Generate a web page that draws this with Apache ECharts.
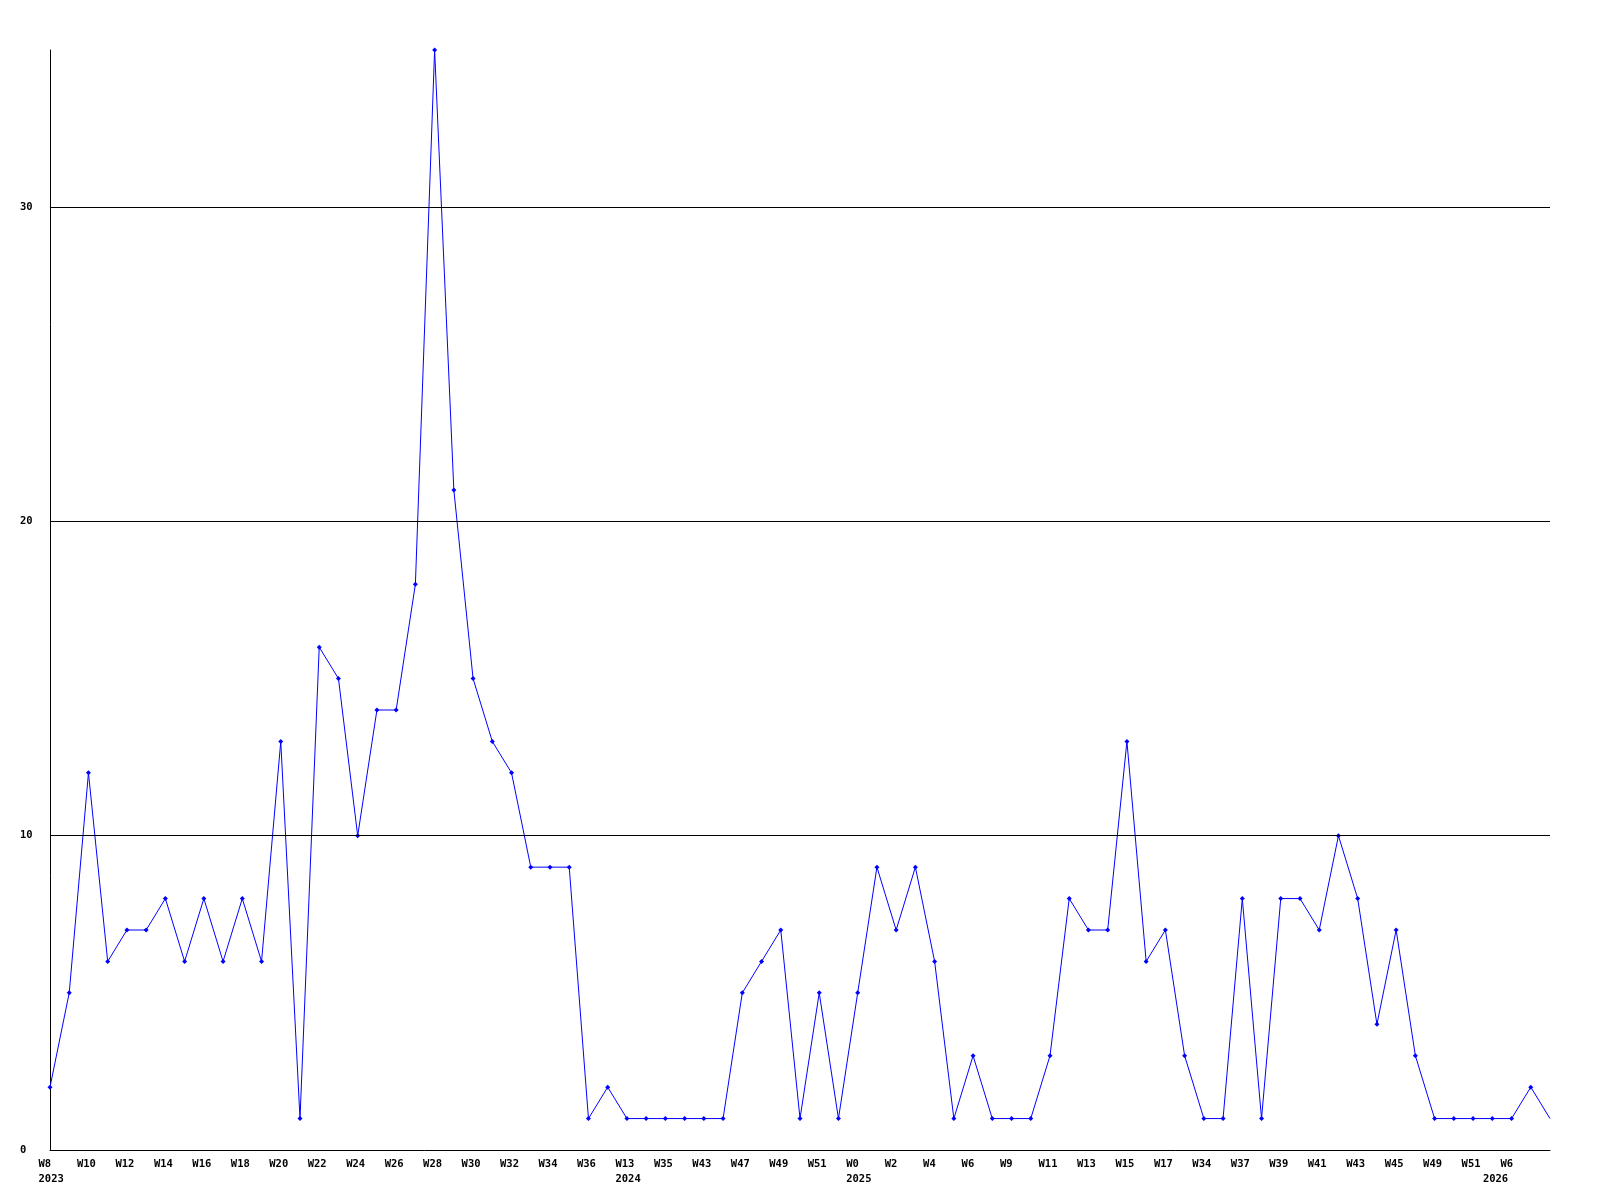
<!DOCTYPE html>
<html>
<head>
<meta charset="utf-8">
<script src="https://cdn.jsdelivr.net/npm/echarts@6/dist/echarts.min.js"></script>
<style>html,body{margin:0;padding:0;background:#fff}#c{width:1600px;height:1200px}</style>
</head>
<body>
<div id="c"></div>
<script>
// Week categories (odd-index names are not shown in the reference; they are placeholders)
const weeks = [
  'W8','W9','W10','W11','W12','W13','W14','W15','W16','W17',
  'W18','W19','W20','W21','W22','W23','W24','W25','W26','W27',
  'W28','W29','W30','W31','W32','W33','W34','W35','W36','W37',
  'W13','W14','W35','W42','W43','W46','W47','W48','W49','W50',
  'W51','W52','W0','W1','W2','W3','W4','W5','W6','W8',
  'W9','W10','W11','W12','W13','W14','W15','W16','W17','W33',
  'W34','W36','W37','W38','W39','W40','W41','W42','W43','W44',
  'W45','W46','W49','W50','W51','W52','W6','W7','W8'
];
// Year shown beneath the first week of each year
const years = {0:'2023', 30:'2024', 42:'2025', 76:'2026'};
const values = [
  2,5,12,6,7,7,8,6,8,6,
  8,6,13,1,16,15,10,14,14,18,
  35,21,15,13,12,9,9,9,1,2,
  1,1,1,1,1,1,5,6,7,1,
  5,1,5,9,7,9,6,1,3,1,
  1,1,3,8,7,7,13,6,7,3,
  1,1,8,1,8,8,7,10,8,4,
  7,3,1,1,1,1,1,2,1
];
const gridValues = [10,20,30];
const yTicks = [0,10,20,30];

const chart = echarts.init(document.getElementById('c'), null, {renderer:'canvas'});
const font = 'DejaVu Sans Mono';
const lastIdx = values.length - 1;
const base = {fontFamily:font,fontWeight:'bold',fontSize:10.5,color:'#000',lineHeight:15};
chart.setOption({
  animation:false,
  backgroundColor:'#ffffff',
  grid:{left:50,right:50,top:50,bottom:50,containLabel:false},
  xAxis:{
    type:'category',
    data:weeks,
    boundaryGap:false,
    axisLine:{show:true,lineStyle:{color:'#000',width:1}},
    axisTick:{show:false},
    splitLine:{show:false},
    axisLabel:{
      interval:1,
      hideOverlap:false,
      margin:7,
      color:'#000',
      fontFamily:font,
      fontWeight:'bold',
      fontSize:10.5,
      formatter:function(v,i){
        if (i === lastIdx) return '';
        if (i === 76) return '{r1|'+v+'}\n{r2|'+years[i]+'}';
        return years[i] ? '{a|'+v+'}\n{a|'+years[i]+'}' : '{a|'+v+'}';
      },
      rich:{
        a:Object.assign({width:23,align:'left'},base),
        r1:Object.assign({align:'right',padding:[0,27,0,0]},base),
        r2:Object.assign({align:'right',padding:[0,32,0,0]},base)
      }
    }
  },
  yAxis:{
    type:'value',
    min:0,max:35,interval:10,
    axisLine:{show:true,lineStyle:{color:'#000',width:1}},
    axisTick:{show:false},
    splitLine:{show:false},
    axisLabel:{
      align:'left',
      margin:30,
      color:'#000',
      fontFamily:font,
      fontWeight:'bold',
      fontSize:10.5,
      formatter:function(v){ return yTicks.indexOf(v)>=0 ? String(v) : ''; }
    }
  },
  series:[{
    type:'line',
    data:values.map((v,i)=> i===lastIdx ? {value:v,symbol:'none'} : v),
    symbol:'diamond',
    symbolSize:5,
    showAllSymbol:true,
    lineStyle:{color:'#0000ff',width:1},
    itemStyle:{color:'#0000ff'},
    markLine:{
      silent:true,
      symbol:['none','none'],
      label:{show:false},
      lineStyle:{color:'#000',width:1,type:'solid'},
      data:gridValues.map(v=>({yAxis:v}))
    },
    z:3
  }]
});
</script>
</body>
</html>
